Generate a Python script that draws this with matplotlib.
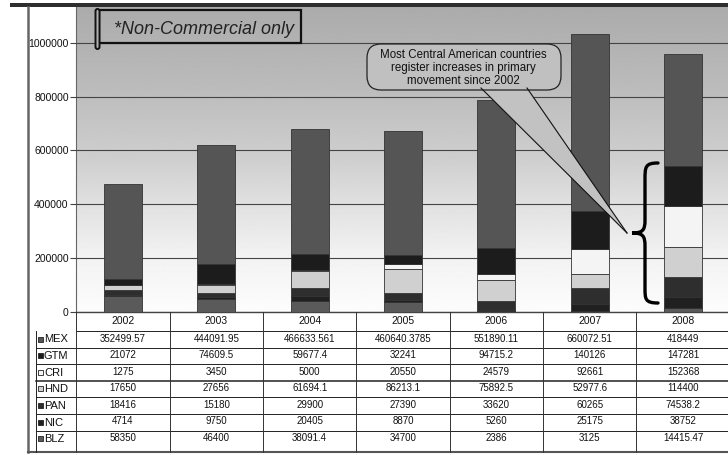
import numpy as np
import matplotlib
matplotlib.use("Agg")
import matplotlib.pyplot as plt
import matplotlib.transforms as mtransforms
from matplotlib.path import Path
from matplotlib.patches import PathPatch, Rectangle, FancyBboxPatch, Polygon
from matplotlib.lines import Line2D

plt.rcParams['font.family'] = ['Liberation Sans', 'DejaVu Sans']

years = ["2002", "2003", "2004", "2005", "2006", "2007", "2008"]

# series in table order (top row first)
countries = ["MEX", "GTM", "CRI", "HND", "PAN", "NIC", "BLZ"]
MEX = [352499.57, 444091.95, 466633.561, 460640.3785, 551890.11, 660072.51, 418449]
GTM = [21072, 74609.5, 59677.4, 32241, 94715.2, 140126, 147281]
CRI = [1275, 3450, 5000, 20550, 24579, 92661, 152368]
HND = [17650, 27656, 61694.1, 86213.1, 75892.5, 52977.6, 114400]
PAN = [18416, 15180, 29900, 27390, 33620, 60265, 74538.2]
NIC = [4714, 9750, 20405, 8870, 5260, 25175, 38752]
BLZ = [58350, 46400, 38091.4, 34700, 2386, 3125, 14415.47]

# text shown in the data table, as printed
table_text = {
    "MEX": ["352499.57", "444091.95", "466633.561", "460640.3785", "551890.11", "660072.51", "418449"],
    "GTM": ["21072", "74609.5", "59677.4", "32241", "94715.2", "140126", "147281"],
    "CRI": ["1275", "3450", "5000", "20550", "24579", "92661", "152368"],
    "HND": ["17650", "27656", "61694.1", "86213.1", "75892.5", "52977.6", "114400"],
    "PAN": ["18416", "15180", "29900", "27390", "33620", "60265", "74538.2"],
    "NIC": ["4714", "9750", "20405", "8870", "5260", "25175", "38752"],
    "BLZ": ["58350", "46400", "38091.4", "34700", "2386", "3125", "14415.47"],
}

series = {"MEX": MEX, "GTM": GTM, "CRI": CRI, "HND": HND,
          "PAN": PAN, "NIC": NIC, "BLZ": BLZ}
colors = {"MEX": "#555555", "GTM": "#1c1c1c", "CRI": "#f4f4f4", "HND": "#d0d0d0",
          "PAN": "#2e2e2e", "NIC": "#202020", "BLZ": "#5a5a5a"}
stack_order = ["BLZ", "NIC", "PAN", "HND", "CRI", "GTM", "MEX"]

W, H = 728, 455
fig = plt.figure(figsize=(W / 100, H / 100), dpi=100)
fig.patch.set_facecolor("white")

# pixel coordinates, origin top-left
px = mtransforms.Affine2D().scale(1 / W, -1 / H).translate(0, 1) + fig.transFigure

ax_l, ax_r, ax_t, ax_b = 76.3, 729.7, 5, 311.7
ax = fig.add_axes([ax_l / W, 1 - ax_b / H, (ax_r - ax_l) / W, (ax_b - ax_t) / H])
ymax = 1141000
ax.set_xlim(-0.5, len(years) - 0.5)
ax.set_ylim(0, ymax)

# plot area shading: grey at the top fading to white at the bottom
frac = np.linspace(0, 1, 256)[:, None]
shade = np.interp(frac, [0, 0.18, 0.35, 0.5, 0.75, 1.0], [0.99, 0.95, 0.88, 0.81, 0.73, 0.67])
ax.imshow(shade, cmap="gray", vmin=0, vmax=1, origin="lower", aspect="auto",
          extent=[-0.5, len(years) - 0.5, 0, ymax], zorder=0)

x = np.arange(len(years))
bottom = np.zeros(len(years))
for name in stack_order:
    vals = np.array(series[name])
    ax.bar(x, vals, 0.41, bottom=bottom, color=colors[name],
           edgecolor="#333333", linewidth=0.6, zorder=3)
    bottom += vals

ax.set_yticks(np.arange(0, 1000001, 200000))
ax.set_yticklabels([str(v) for v in range(0, 1000001, 200000)], fontsize=7.5)
ax.yaxis.grid(True, color="#444444", linewidth=0.8, zorder=1)
ax.set_axisbelow(False)
ax.tick_params(axis="y", length=4, pad=1.5, color="#444444", direction="out")
ax.set_xticks([])
for s in ["top", "right"]:
    ax.spines[s].set_visible(False)
ax.spines["left"].set_color("#666666")
ax.spines["bottom"].set_color("#444444")
ax.spines["left"].set_linewidth(0.8)
ax.spines["bottom"].set_linewidth(1.0)
for lbl in ax.get_yticklabels():
    lbl.set_color("#111111")

# chart frame
fig.add_artist(Rectangle((10, 2.5), 718, 4, transform=px, facecolor="#2e2e2e", edgecolor="none"))
fig.add_artist(Line2D([28, 28], [7, 452], transform=px, color="#666666", linewidth=1.8))
fig.add_artist(Line2D([28, 728], [452, 452], transform=px, color="#555555", linewidth=1.5))

# data table below the axis
colx = mtransforms.blended_transform_factory(ax.transData, px)
row_lines = [331, 347.6, 364.2, 380.8, 397.4, 414, 430.6]
row_mid = [339.5, 356.1, 372.7, 389.3, 405.9, 422.5, 439.1]
for i, y in enumerate(row_lines):
    x0 = ax_l if i == 0 else 36
    lw = 1.1 if i == 3 else 0.7
    fig.add_artist(Line2D([x0, 730], [y, y], transform=px, color="#222222", linewidth=lw))
fig.add_artist(Line2D([36, 36], [331, 452], transform=px, color="#222222", linewidth=0.7))
for k in range(len(years) + 1):
    fig.add_artist(Line2D([k - 0.5, k - 0.5], [311.7, 452], transform=colx,
                          color="#333333", linewidth=0.7))
for k, yr in enumerate(years):
    fig.text(k, 321.5, yr, transform=colx, ha="center", va="center", fontsize=7.5, color="#111111")

for r, name in enumerate(countries):
    ym = row_mid[r]
    fig.add_artist(Rectangle((37.5, ym - 3), 5, 5, transform=px, facecolor=colors[name],
                             edgecolor="#222222", linewidth=0.6))
    fig.text(44, ym, name, transform=px, ha="left", va="center", fontsize=8, color="#111111")
    for k, txt in enumerate(table_text[name]):
        fig.text(k, ym - 1, txt, transform=colx, ha="center", va="center",
                 fontsize=7, color="#111111")

# "*Non-Commercial only" label box
fig.add_artist(Rectangle((99, 10), 202, 33, transform=px, facecolor="none",
                         edgecolor="#111111", linewidth=1.6))
fig.add_artist(FancyBboxPatch((95.5, 9), 4, 40, boxstyle="round,pad=0,rounding_size=2",
                              transform=px, facecolor="#b0b0b0", edgecolor="#111111", linewidth=1.4))
fig.text(204, 30, "*Non-Commercial only", transform=px, ha="center", va="center",
         fontsize=13, style="italic", color="#222222")

# callout with its pointer
tip = (627, 233)
fig.add_artist(Polygon([(481, 88), (527, 88), tip], closed=True, transform=px,
                       facecolor="#c2c2c2", edgecolor="none"))
fig.add_artist(Line2D([481, tip[0]], [88, tip[1]], transform=px, color="#111111", linewidth=0.8))
fig.add_artist(Line2D([527, tip[0]], [88, tip[1]], transform=px, color="#111111", linewidth=0.8))
fig.add_artist(FancyBboxPatch((367, 44), 194, 46, boxstyle="round,pad=0,rounding_size=14",
                              transform=px, facecolor="#c0c0c0", edgecolor="#222222", linewidth=0.9))
fig.text(463, 68, "Most Central American countries\nregister increases in primary\nmovement since 2002",
         transform=px, ha="center", va="center", fontsize=8.3, linespacing=1.12, color="#111111")

# brace grouping the Central American segments of the last bar
xe, xm, xt = 658, 645, 632
verts = [(xe, 163), (xm, 163), (xm, 167), (xm, 180),
         (xm, 220),
         (xm, 230), (xm - 2, 233), (xt, 233),
         (xm - 2, 233), (xm, 236), (xm, 246),
         (xm, 288),
         (xm, 299), (xm, 303), (xe, 303)]
codes = [Path.MOVETO, Path.CURVE4, Path.CURVE4, Path.CURVE4,
         Path.LINETO,
         Path.CURVE4, Path.CURVE4, Path.CURVE4,
         Path.CURVE4, Path.CURVE4, Path.CURVE4,
         Path.LINETO,
         Path.CURVE4, Path.CURVE4, Path.CURVE4]
fig.add_artist(PathPatch(Path(verts, codes), transform=px, facecolor="none",
                         edgecolor="black", linewidth=2.4, capstyle="round"))

fig.savefig("out.png", dpi=100)
